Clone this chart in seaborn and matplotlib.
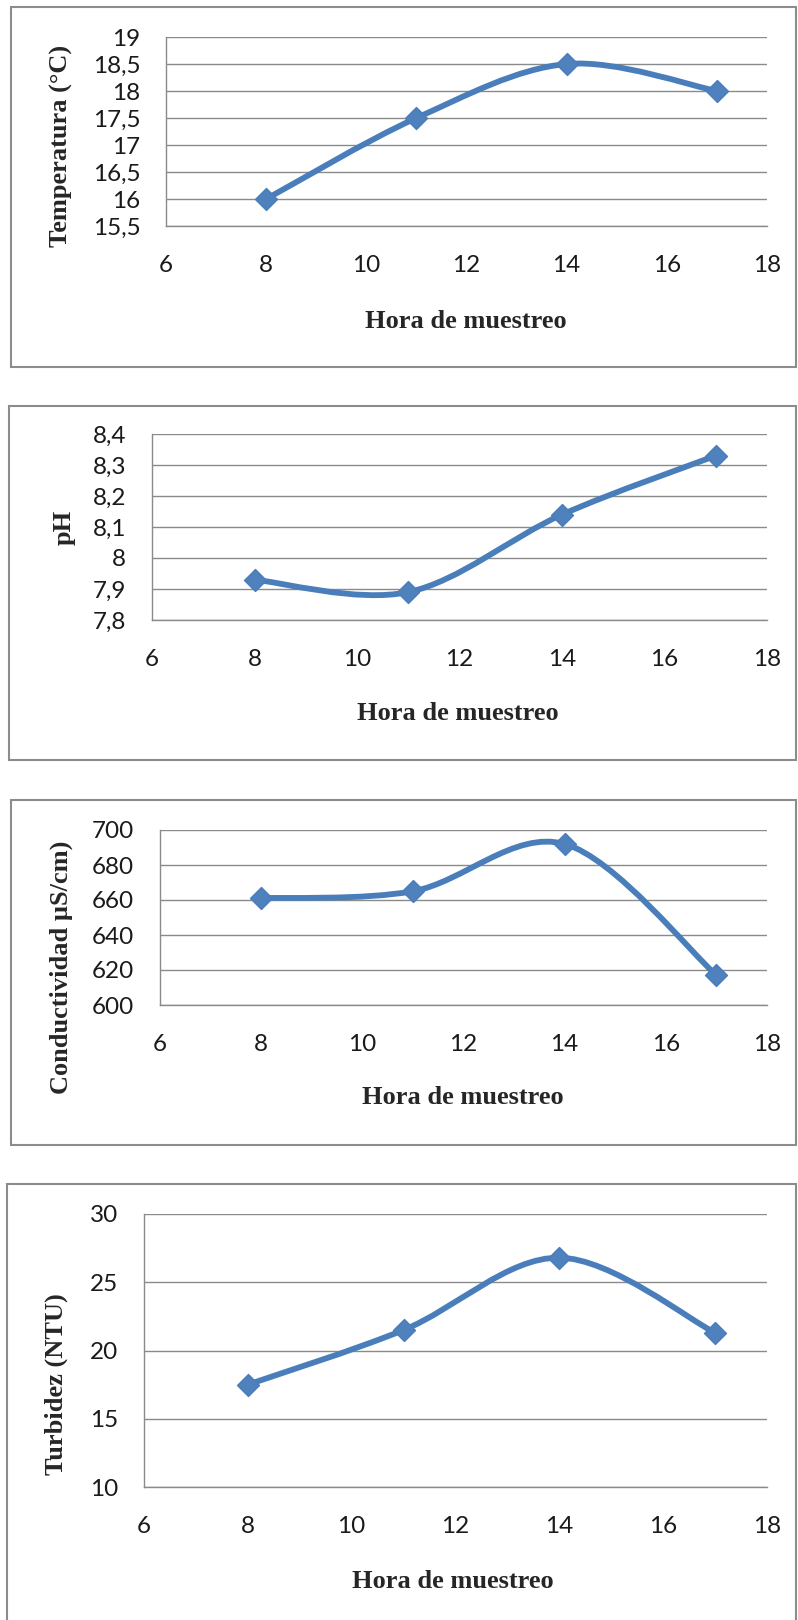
import numpy as np
import matplotlib
matplotlib.use("Agg")
import matplotlib.pyplot as plt
import seaborn as sns
from matplotlib.path import Path
from matplotlib.patches import PathPatch, Rectangle

# ---- data -------------------------------------------------------------
hours = [8, 11, 14, 17]
temperatura = [16.0, 17.5, 18.5, 18.0]
ph = [7.93, 7.89, 8.14, 8.33]
conductividad = [661, 665, 692, 617]
turbidez = [17.5, 21.5, 26.8, 21.3]

x_ticks = [6, 8, 10, 12, 14, 16, 18]
temp_ticks = [15.5, 16, 16.5, 17, 17.5, 18, 18.5, 19]
ph_ticks = [7.8, 7.9, 8.0, 8.1, 8.2, 8.3, 8.4]
cond_ticks = [600, 620, 640, 660, 680, 700]
turb_ticks = [10, 15, 20, 25, 30]

y_labels = ["Temperatura (°C)", "pH", "Conductividad µS/cm)", "Turbidez (NTU)"]
x_label = "Hora de muestreo"

# ---- style ------------------------------------------------------------
sns.set_style("white")
plt.rcParams["font.family"] = ["Lato", "DejaVu Sans"]

W, H = 798, 1620
LINE = "#4A7EBB"
MARK = "#4F81BD"
GRID = "#8a8a8a"
BOX = "#8c8c8c"
TICK_SIZE = 17.5

fig = plt.figure(figsize=(W / 100, H / 100), dpi=100)
fig.patch.set_facecolor("white")

# pixel layout of each panel: plot area, outer frame, label centres
panels = [
    dict(y=temperatura, ticks=temp_ticks, ylabel=y_labels[0],
         plot=(166, 37, 767, 226), frame=(11, 7, 796, 367),
         ylab=(61, 146), xlab=(466, 321)),
    dict(y=ph, ticks=ph_ticks, ylabel=y_labels[1],
         plot=(152, 434, 767, 620), frame=(9, 406, 796, 760),
         ylab=(64, 527), xlab=(458, 713)),
    dict(y=conductividad, ticks=cond_ticks, ylabel=y_labels[2],
         plot=(160, 830, 767, 1005), frame=(11, 800, 796, 1145),
         ylab=(61, 967), xlab=(463, 1098)),
    dict(y=turbidez, ticks=turb_ticks, ylabel=y_labels[3],
         plot=(144, 1214, 767, 1487), frame=(7, 1184, 796, 1650),
         ylab=(56, 1384), xlab=(453, 1582)),
]


def smooth_path(xs, ys, t=1 / 6):
    """Cubic Bezier path through the points (smoothed-line style)."""
    pts = np.column_stack([xs, ys]).astype(float)
    n = len(pts)
    verts = [pts[0]]
    codes = [Path.MOVETO]
    for i in range(n - 1):
        p_prev = pts[max(i - 1, 0)]
        p0 = pts[i]
        p1 = pts[i + 1]
        p_next = pts[min(i + 2, n - 1)]
        c1 = p0 + (p1 - p_prev) * t
        c2 = p1 - (p_next - p0) * t
        verts += [c1, c2, p1]
        codes += [Path.CURVE4] * 3
    return Path(verts, codes)


def fmt(v):
    return f"{v:g}".replace(".", ",")


for p in panels:
    l, t, r, b = p["plot"]
    ax = fig.add_axes([l / W, 1 - b / H, (r - l) / W, (b - t) / H])
    ax.set_facecolor("white")

    ax.add_patch(PathPatch(smooth_path(hours, p["y"]), facecolor="none",
                           edgecolor=LINE, lw=4.2, capstyle="round",
                           joinstyle="round", zorder=3))
    sns.scatterplot(x=hours, y=p["y"], marker="D", s=125, color=MARK,
                    edgecolor=LINE, linewidth=1.0, ax=ax, zorder=4,
                    clip_on=False, legend=False)

    ax.set_xlim(x_ticks[0], x_ticks[-1])
    ax.set_ylim(p["ticks"][0], p["ticks"][-1])
    ax.set_xticks(x_ticks)
    ax.set_xticklabels([fmt(v) for v in x_ticks])
    ax.set_yticks(p["ticks"])
    ax.set_yticklabels([fmt(v) for v in p["ticks"]])
    ax.tick_params(axis="x", length=0, pad=21, labelsize=TICK_SIZE,
                   labelcolor="#1a1a1a")
    ax.tick_params(axis="y", length=0, pad=18.5, labelsize=TICK_SIZE,
                   labelcolor="#1a1a1a")

    ax.grid(axis="y", color=GRID, lw=1.0)
    ax.grid(axis="x", visible=False)
    for side in ("top", "right"):
        ax.spines[side].set_visible(False)
    for side in ("left", "bottom"):
        ax.spines[side].set_visible(True)
        ax.spines[side].set_color(GRID)
        ax.spines[side].set_linewidth(1.0)
    ax.set_axisbelow(True)

    # axis titles, centred at their positions
    ax.set_ylabel(p["ylabel"], family=["Liberation Serif", "DejaVu Serif"],
                  fontweight="bold", fontsize=19, rotation=90,
                  va="center", ha="center")
    ax.yaxis.set_label_coords((p["ylab"][0] - l) / (r - l),
                              (b - p["ylab"][1]) / (b - t))
    ax.set_xlabel(x_label, family=["Liberation Serif", "DejaVu Serif"],
                  fontweight="bold", fontsize=19, va="center", ha="center")
    ax.xaxis.set_label_coords((p["xlab"][0] - l) / (r - l),
                              (b - p["xlab"][1]) / (b - t))

    # outer chart frame
    fl, ft, fr, fb = p["frame"]
    fig.add_artist(Rectangle((fl / W, 1 - fb / H), (fr - fl) / W, (fb - ft) / H,
                             transform=fig.transFigure, fill=False,
                             edgecolor=BOX, lw=1.5))

fig.savefig("out.png", dpi=100, facecolor="white")
